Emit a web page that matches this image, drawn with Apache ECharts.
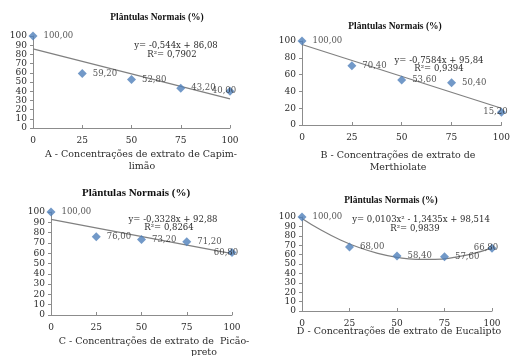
<!DOCTYPE html>
<html>
<head>
<meta charset="utf-8">
<script src="https://cdn.jsdelivr.net/npm/echarts@6/dist/echarts.min.js"></script>
<style>
    html, body {margin: 0; padding: 0; background: #fff;}
    #main {width: 513px; height: 356px;}
</style>
</head>
<body>
<div id="main"></div>
<script>
    // concentrações (%)
    var doses = [0, 25, 50, 75, 100];

    // plântulas normais (%) por extrato
    var capimLimao = [100.0, 59.2, 52.8, 43.2, 40.0];
    var merthiolate = [100.0, 70.4, 53.6, 50.4, 15.2];
    var picaoPreto = [100.0, 76.0, 73.2, 71.2, 60.8];
    var eucalipto = [100.0, 68.0, 58.4, 57.6, 66.8];

    // linhas de tendência
    var trendA = [[0, 86.08], [100, 31.68]];
    var trendB = [[0, 95.84], [100, 20.0]];
    var trendC = [[0, 92.88], [100, 59.6]];
    var trendD = [[0, 98.5], [10, 86.1], [20, 75.8], [30, 67.5], [40, 61.3], [50, 57.1],
        [60, 55.0], [70, 54.9], [80, 57.0], [90, 61.0], [100, 67.2]];

    var equations = [
        ['y= -0,544x + 86,08', 'R²= 0,7902'],
        ['y= -0,7584x + 95,84', 'R²= 0,9394'],
        ['y= -0,3328x + 92,88', 'R²= 0,8264'],
        ['y= 0,0103x² - 1,3435x + 98,514', 'R²= 0,9839']
    ];
    var titleText = 'Plântulas Normais (%)';
    var captions = [
        ['A - Concentrações de extrato de Capim-', 'limão'],
        ['B - Concentrações de extrato de', 'Merthiolate'],
        ['C - Concentrações de extrato de  Picão-', 'preto'],
        ['D - Concentrações de extrato de Eucalipto', '']
    ];

    var serif = 'DejaVu Serif';
    var txt = '#2b2b2b';
    var blue = '#4f7fba';
    var gray = '#808080';

    var grids = [
        {left: 33, top: 36, width: 197, height: 92},
        {left: 302, top: 41, width: 200, height: 84},
        {left: 51, top: 212, width: 181, height: 103},
        {left: 302, top: 217, width: 190, height: 94}
    ];
    var yIntervals = [10, 20, 10, 10];

    // posições dos textos (centro)
    var titlePos = [[157, 18, 9.5], [395, 27, 9.5], [136, 193, 11], [391, 201, 9.5]];
    var eqPos = [[176, 46, 172, 55], [439, 61, 439, 69], [173, 220, 169, 228], [421, 220, 415, 229]];
    var capPos = [[141, 155, 142, 167], [398, 156, 398, 168], [154, 342, 204, 353], [399, 332, 0, 0]];

    function fmt(p) {
        return p.value[1].toFixed(2).replace('.', ',');
    }

    function pts(vals) {
        var out = [];
        for (var a = 0; a < vals.length; a++) {
            var item = {value: [doses[a], vals[a]]};
            if (a == vals.length - 1) {
                item.label = {position: 'inside', offset: [-6, 0]};
            }
            out.push(item);
        }
        return out;
    }

    function centerText(text, x, y, size, bold) {
        return {
            type: 'text', x: x, y: y,
            style: {
                text: text, x: 0, y: 0, align: 'center', verticalAlign: 'middle',
                font: (bold ? 'bold ' : '') + size + 'px "' + (bold ? 'Liberation Serif' : serif) + '"',
                fill: bold ? '#111' : txt
            }
        };
    }

    var all = [capimLimao, merthiolate, picaoPreto, eucalipto];
    var trends = [trendA, trendB, trendC, trendD];
    var xAxes = [], yAxes = [], series = [], graphics = [];

    for (var i = 0; i < 4; i++) {
        xAxes.push({
            type: 'value', gridIndex: i, min: 0, max: 100, interval: 25,
            splitLine: {show: false},
            axisLine: {lineStyle: {color: '#8c8c8c'}},
            axisTick: {show: true, length: 3, inside: true, lineStyle: {color: '#8c8c8c'}},
            axisLabel: {fontFamily: serif, fontSize: 9, color: txt, margin: 8}
        });
        yAxes.push({
            type: 'value', gridIndex: i, min: 0, max: 100, interval: yIntervals[i],
            splitLine: {show: false},
            axisLine: {show: true, lineStyle: {color: '#8c8c8c'}},
            axisTick: {show: true, length: 3, lineStyle: {color: '#8c8c8c'}},
            axisLabel: {fontFamily: serif, fontSize: 9, color: txt, margin: 6}
        });
        series.push({
            type: 'line', xAxisIndex: i, yAxisIndex: i,
            data: trends[i], smooth: i == 3, showSymbol: false, silent: true,
            lineStyle: {color: gray, width: 1.2}, z: 1
        });
        series.push({
            type: 'scatter', xAxisIndex: i, yAxisIndex: i,
            data: pts(all[i]), symbol: 'diamond', symbolSize: 9,
            itemStyle: {color: blue},
            label: {
                show: true, position: 'right', distance: 6, formatter: fmt,
                fontFamily: serif, fontSize: 8.5, color: txt
            },
            z: 3
        });

        graphics.push(centerText(titleText, titlePos[i][0], titlePos[i][1], titlePos[i][2], true));
        graphics.push(centerText(equations[i][0], eqPos[i][0], eqPos[i][1], 8.5, false));
        graphics.push(centerText(equations[i][1], eqPos[i][2], eqPos[i][3], 8.5, false));
        graphics.push(centerText(captions[i][0], capPos[i][0], capPos[i][1], 9.5, false));
        if (captions[i][1]) {
            graphics.push(centerText(captions[i][1], capPos[i][2], capPos[i][3], 9.5, false));
        }
    }

    var myChart = echarts.init(document.getElementById('main'));
    myChart.setOption({
        animation: false,
        backgroundColor: '#fff',
        grid: grids,
        xAxis: xAxes,
        yAxis: yAxes,
        series: series,
        graphic: graphics
    });
</script>
</body>
</html>
